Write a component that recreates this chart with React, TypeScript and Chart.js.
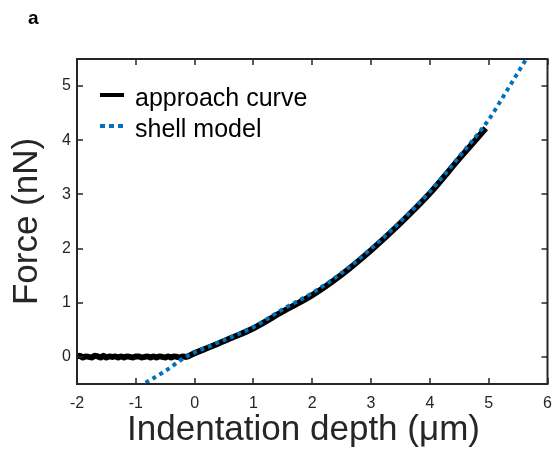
import React, { useEffect, useRef } from "react";
import { Chart, registerables } from "chart.js";

Chart.register(...registerables);

// ---- data ----
const approachX = [
  -2.0, -1.95, -1.9, -1.85, -1.8, -1.75, -1.7, -1.65, -1.6, -1.55, -1.5, -1.45, -1.4, -1.35, -1.3, -1.25,
  -1.2, -1.15, -1.1, -1.05, -1.0, -0.95, -0.9, -0.85, -0.8, -0.75, -0.7, -0.65, -0.6, -0.55, -0.5, -0.45,
  -0.4, -0.35, -0.3, -0.25, -0.2, -0.15,
  0.0, 0.3, 0.6, 1.0, 1.5, 2.0, 2.5, 3.0, 3.5, 4.0, 4.5, 4.95,
];
const approachY = [
  0.01, 0.02, -0.01, 0.01, 0.0, -0.01, 0.02, 0.01, -0.01, 0.02, -0.01, 0.01, 0.0, 0.01, -0.01, 0.01,
  -0.01, 0.01, 0.0, -0.01, 0.01, 0.01, -0.01, 0.0, 0.01, -0.01, 0.01, -0.01, 0.01, 0.0, -0.01, 0.01,
  -0.01, 0.01, 0.0, -0.01, 0.01, 0.0,
  0.07, 0.2, 0.34, 0.53, 0.84, 1.14, 1.52, 1.97, 2.47, 3.02, 3.66, 4.22,
];
const modelX = [-0.95, -0.5, -0.15, 0.3, 1.0, 1.5, 2.0, 2.5, 3.0, 3.5, 4.0, 4.5, 5.0, 5.3, 5.75];
const modelY = [-0.55, -0.26, 0.0, 0.22, 0.55, 0.88, 1.18, 1.55, 2.0, 2.5, 3.05, 3.7, 4.38, 4.9, 5.7];

const xTicks = [-2, -1, 0, 1, 2, 3, 4, 5, 6];
const yTicks = [0, 1, 2, 3, 4, 5];
const seriesNames = ["approach curve", "shell model"];
const panelLabel = "a";
const xTitle = "Indentation depth (\u03BCm)\u2002";
const yTitle = "Force (nN)";

const AXIS = "#262626";
const BLUE = "#0072BD";
const FONT = "'Liberation Sans', Arial, Helvetica, sans-serif";

const decorPlugin = {
  id: "decor",
  afterDraw(chart: any) {
    const { ctx, chartArea: a, scales } = chart;
    const x = scales.x;
    const y = scales.y;
    ctx.save();
    // box
    ctx.strokeStyle = AXIS;
    ctx.lineWidth = 2;
    ctx.strokeRect(a.left, a.top, a.right - a.left, a.bottom - a.top);
    // inward ticks on all four sides
    ctx.lineWidth = 1.5;
    const tl = 6;
    ctx.beginPath();
    for (const v of xTicks) {
      const px = Math.round(x.getPixelForValue(v));
      ctx.moveTo(px, a.bottom);
      ctx.lineTo(px, a.bottom - tl);
      ctx.moveTo(px, a.top);
      ctx.lineTo(px, a.top + tl);
    }
    for (const v of yTicks) {
      const py = Math.round(y.getPixelForValue(v));
      ctx.moveTo(a.left, py);
      ctx.lineTo(a.left + tl, py);
      ctx.moveTo(a.right, py);
      ctx.lineTo(a.right - tl, py);
    }
    ctx.stroke();

    // legend inside the plot
    const lx0 = a.left + 23;
    const lx1 = a.left + 47;
    const tx = a.left + 58;
    const rows = [
      { y: 95, color: "#000000", dash: [] as number[], w: 4, baseline: 106 },
      { y: 126, color: BLUE, dash: [5, 4], w: 4, baseline: 137 },
    ];
    rows.forEach((r, i) => {
      ctx.beginPath();
      ctx.strokeStyle = r.color;
      ctx.lineWidth = r.w;
      ctx.setLineDash(r.dash);
      ctx.moveTo(lx0, r.y);
      ctx.lineTo(lx1, r.y);
      ctx.stroke();
      ctx.setLineDash([]);
      ctx.fillStyle = "#000000";
      ctx.font = `25px ${FONT}`;
      ctx.textAlign = "left";
      ctx.textBaseline = "alphabetic";
      ctx.fillText(seriesNames[i], tx, r.baseline);
    });

    // panel label
    ctx.fillStyle = "#000000";
    ctx.font = `bold 19px ${FONT}`;
    ctx.textAlign = "left";
    ctx.textBaseline = "alphabetic";
    ctx.fillText(panelLabel, 28, 24);
    ctx.restore();
  },
};

export default function App() {
  const ref = useRef<HTMLCanvasElement | null>(null);

  useEffect(() => {
    document.body.style.margin = "0";
    const canvas = ref.current;
    if (!canvas) return;
    const chart = new Chart(canvas, {
      type: "line",
      data: {
        datasets: [
          {
            label: seriesNames[0],
            data: approachX.map((v, i) => ({ x: v, y: approachY[i] })),
            borderColor: "#000000",
            borderWidth: 6,
            pointRadius: 0,
            cubicInterpolationMode: "monotone",
            fill: false,
            order: 1,
          },
          {
            label: seriesNames[1],
            data: modelX.map((v, i) => ({ x: v, y: modelY[i] })),
            borderColor: BLUE,
            borderWidth: 4,
            borderDash: [4, 4],
            pointRadius: 0,
            cubicInterpolationMode: "monotone",
            fill: false,
            order: 0,
          },
        ],
      },
      options: {
        animation: false,
        responsive: true,
        maintainAspectRatio: false,
        layout: { padding: { top: 59, right: 5.5, left: 0, bottom: 0 } },
        plugins: {
          legend: { display: false },
          tooltip: { enabled: false },
        },
        scales: {
          x: {
            type: "linear",
            min: -2,
            max: 6,
            afterBuildTicks: (s: any) => {
              s.ticks = xTicks.map((v) => ({ value: v }));
            },
            afterFit: (s: any) => {
              s.height = 71;
              s.paddingLeft = 0;
              s.paddingRight = 0;
            },
            grid: { display: false, drawTicks: false },
            border: { display: false },
            ticks: {
              color: AXIS,
              padding: 10,
              font: { family: FONT, size: 16 },
              maxRotation: 0,
              autoSkip: false,
            },
            title: {
              display: true,
              text: xTitle,
              color: AXIS,
              font: { family: FONT, size: 35 },
              padding: { top: 0, bottom: 3.5 },
            },
          },
          y: {
            type: "linear",
            min: -0.5,
            max: 5.5,
            afterBuildTicks: (s: any) => {
              s.ticks = yTicks.map((v) => ({ value: v }));
            },
            afterFit: (s: any) => {
              s.width = 77;
              s.paddingTop = 0;
              s.paddingBottom = 0;
            },
            grid: { display: false, drawTicks: false },
            border: { display: false },
            ticks: {
              color: AXIS,
              padding: 6,
              font: { family: FONT, size: 16 },
              autoSkip: false,
            },
            title: {
              display: true,
              text: yTitle,
              color: AXIS,
              font: { family: FONT, size: 35 },
              padding: { top: 6.5, bottom: 0 },
            },
          },
        },
      },
      plugins: [decorPlugin],
    } as any);
    return () => chart.destroy();
  }, []);

  return (
    <div style={{ width: 553, height: 455, position: "relative" }}>
      <canvas ref={ref} />
    </div>
  );
}
